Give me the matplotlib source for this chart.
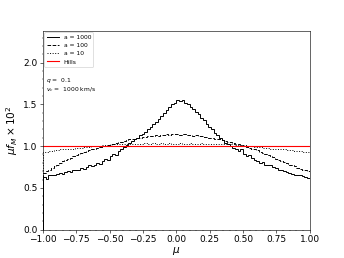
import numpy as np
import matplotlib
matplotlib.use("Agg")
import matplotlib.pyplot as plt

# histogram bin edges in mu
edges = np.linspace(-1.0, 1.0, 101)

# mu f_M x 10^2 per bin
f_a1000 = [0.63, 0.61, 0.65, 0.66, 0.65, 0.67, 0.68, 0.67, 0.69, 0.70,
           0.69, 0.71, 0.72, 0.71, 0.74, 0.73, 0.75, 0.77, 0.76, 0.78,
           0.80, 0.79, 0.82, 0.85, 0.84, 0.88, 0.90, 0.89, 0.94, 0.97,
           0.99, 1.01, 1.04, 1.06, 1.08, 1.10, 1.13, 1.15, 1.17, 1.20,
           1.23, 1.26, 1.29, 1.33, 1.36, 1.40, 1.43, 1.47, 1.50, 1.52,
           1.55, 1.54, 1.55, 1.52, 1.50, 1.47, 1.44, 1.41, 1.38, 1.34,
           1.31, 1.27, 1.23, 1.20, 1.16, 1.13, 1.10, 1.07, 1.04, 1.02,
           1.00, 0.98, 0.97, 0.94, 0.96, 0.91, 0.88, 0.89, 0.86, 0.84,
           0.82, 0.80, 0.81, 0.78, 0.77, 0.78, 0.75, 0.74, 0.72, 0.71,
           0.70, 0.69, 0.68, 0.67, 0.66, 0.66, 0.65, 0.64, 0.63, 0.62]

f_a100 = [0.68, 0.70, 0.72, 0.74, 0.76, 0.78, 0.80, 0.82, 0.83, 0.85,
          0.86, 0.88, 0.89, 0.90, 0.92, 0.93, 0.94, 0.95, 0.96, 0.97,
          0.98, 0.99, 1.00, 1.00, 1.01, 1.02, 1.03, 1.04, 1.05, 1.05,
          1.06, 1.07, 1.08, 1.08, 1.09, 1.10, 1.10, 1.11, 1.11, 1.12,
          1.12, 1.12, 1.13, 1.12, 1.13, 1.13, 1.14, 1.13, 1.14, 1.14,
          1.14, 1.13, 1.14, 1.14, 1.13, 1.13, 1.12, 1.13, 1.12, 1.12,
          1.11, 1.11, 1.10, 1.10, 1.09, 1.08, 1.08, 1.07, 1.06, 1.05,
          1.05, 1.04, 1.03, 1.02, 1.01, 1.00, 0.99, 0.98, 0.97, 0.96,
          0.95, 0.93, 0.92, 0.91, 0.89, 0.88, 0.87, 0.85, 0.84, 0.82,
          0.81, 0.80, 0.78, 0.77, 0.76, 0.74, 0.73, 0.72, 0.71, 0.70]

f_a10 = [0.93, 0.93, 0.94, 0.94, 0.95, 0.95, 0.96, 0.96, 0.96, 0.97,
         0.97, 0.97, 0.98, 0.98, 0.98, 0.99, 0.99, 0.99, 1.00, 1.00,
         1.00, 1.00, 1.01, 1.01, 1.01, 1.01, 1.02, 1.02, 1.02, 1.02,
         1.02, 1.03, 1.03, 1.03, 1.03, 1.03, 1.03, 1.03, 1.04, 1.03,
         1.03, 1.04, 1.03, 1.03, 1.04, 1.03, 1.03, 1.04, 1.03, 1.03,
         1.03, 1.04, 1.03, 1.03, 1.03, 1.04, 1.03, 1.03, 1.03, 1.04,
         1.03, 1.03, 1.03, 1.03, 1.03, 1.02, 1.03, 1.02, 1.02, 1.02,
         1.02, 1.02, 1.01, 1.01, 1.01, 1.01, 1.00, 1.00, 1.00, 0.99,
         0.99, 0.99, 0.98, 0.98, 0.98, 0.97, 0.97, 0.97, 0.96, 0.96,
         0.96, 0.95, 0.95, 0.95, 0.94, 0.94, 0.94, 0.93, 0.93, 0.93]

hills = 1.0

fig, ax = plt.subplots(figsize=(6.4, 4.8), dpi=53.75)

ax.stairs(f_a1000, edges, color="k", ls="-", lw=1.3, label="a = 1000")
ax.stairs(f_a100, edges, color="k", ls="--", lw=1.3, label="a = 100")
ax.stairs(f_a10, edges, color="k", ls=":", lw=1.3, label="a = 10")
ax.axhline(hills, color="r", lw=1.5, label="Hills")

ax.set_xlim(-1, 1)
ax.set_ylim(0, 2.38)
ax.set_xticks(np.arange(-1, 1.01, 0.25))
ax.minorticks_on()
ax.tick_params(axis="x", labelsize=12)
ax.tick_params(axis="y", labelsize=12)
ax.set_xlabel(r"$\mu$", fontsize=14, labelpad=1)
ax.set_ylabel(r"$\mu f_M \times 10^2$", fontsize=14)

ax.legend(loc="upper left", fontsize=8, borderaxespad=0.25)
ax.text(0.01, 0.745, "$q$ =  0.1", transform=ax.transAxes, fontsize=8)
ax.text(0.01, 0.695, "$v_c$ =  1000 km/s", transform=ax.transAxes, fontsize=8)

fig.savefig("out.png", dpi=53.75)
